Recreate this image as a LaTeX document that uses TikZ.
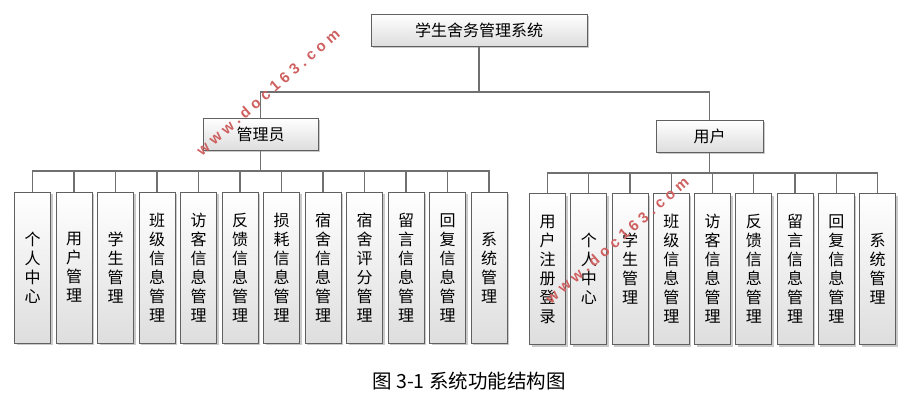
\documentclass[tikz,border=0pt]{standalone}
\usepackage{fontspec}
\setmainfont{Noto Sans CJK SC}
\newfontfamily\markfont{Liberation Sans}
\usepackage{xcolor}
\definecolor{boxgray}{RGB}{96,96,96}
\definecolor{linegray}{RGB}{112,112,112}
\definecolor{markred}{RGB}{206,96,96}
\usetikzlibrary{positioning, shadows}

\begin{document}
\begin{tikzpicture}[
    % GLOBAL CFG
    x=1pt, y=-1pt,
    font=\fontsize{16}{19}\selectfont,
    % Styles
    sysbox/.style={% For every box
        rectangle,
        draw=boxgray,
        line width=1pt,
        top color=white,
        bottom color=black!13,
        drop shadow={shadow xshift=2pt, shadow yshift=-2pt, fill=black!35, opacity=.6},
        inner sep=0pt,
        minimum height=32pt,
        },
    leaf/.style={% For the function boxes
        sysbox,
        text width=36pt,
        minimum width=36pt,
        minimum height=151pt,
        align=center,
        },
    branch/.style={% Tree lines
        draw=linegray,
        line width=1.2pt,
        },
    watermark/.style={% site mark
        text=markred,
        font=\markfont\bfseries\fontsize{15}{15}\selectfont\addfontfeature{LetterSpace=30},
        rotate=41,
        },
    ]
\useasboundingbox (0,0) rectangle (912,402);

%Start drawing the tree...
    % Draw the root and the roles
    \node [sysbox, minimum width=216pt] (root) at (479,30) {学生舍务管理系统};
    \node [sysbox, minimum width=115pt] (admin) at (260.5,134) {管理员};
    \node [sysbox, minimum width=107pt] (user) at (709.5,136) {用户};

    % Draw admin functions named a#
    \node [leaf] (a1) at (32.5,267.5) {个\\人\\中\\心};
    \node [leaf, right=4.5pt of a1] (a2) {用\\户\\管\\理};
    \node [leaf, right=4.5pt of a2] (a3) {学\\生\\管\\理};
    \node [leaf, right=4.5pt of a3] (a4) {班\\级\\信\\息\\管\\理};
    \node [leaf, right=4.5pt of a4] (a5) {访\\客\\信\\息\\管\\理};
    \node [leaf, right=4.5pt of a5] (a6) {反\\馈\\信\\息\\管\\理};
    \node [leaf, right=4.5pt of a6] (a7) {损\\耗\\信\\息\\管\\理};
    \node [leaf, right=4.5pt of a7] (a8) {宿\\舍\\信\\息\\管\\理};
    \node [leaf, right=4.5pt of a8] (a9) {宿\\舍\\评\\分\\管\\理};
    \node [leaf, right=4.5pt of a9] (a10) {留\\言\\信\\息\\管\\理};
    \node [leaf, right=4.5pt of a10] (a11) {回\\复\\信\\息\\管\\理};
    \node [leaf, right=4.5pt of a11] (a12) {系\\统\\管\\理};

    % Draw user functions named u#
    \node [leaf] (u1) at (547.5,269) {用\\户\\注\\册\\登\\录};
    \node [leaf, right=4.25pt of u1] (u2) {个\\人\\中\\心};
    \node [leaf, right=4.25pt of u2] (u3) {学\\生\\管\\理};
    \node [leaf, right=4.25pt of u3] (u4) {班\\级\\信\\息\\管\\理};
    \node [leaf, right=4.25pt of u4] (u5) {访\\客\\信\\息\\管\\理};
    \node [leaf, right=4.25pt of u5] (u6) {反\\馈\\信\\息\\管\\理};
    \node [leaf, right=4.25pt of u6] (u7) {留\\言\\信\\息\\管\\理};
    \node [leaf, right=4.25pt of u7] (u8) {回\\复\\信\\息\\管\\理};
    \node [leaf, right=4.25pt of u8] (u9) {系\\统\\管\\理};

    % Bus points
    \coordinate (bus0) at (479,92);
    \coordinate (bus1) at (260.5,171);
    \coordinate (bus2) at (709.5,173);

% Start connecting all.
    \draw [branch] (root) -- (bus0) -| (admin);
    \draw [branch] (bus0) -| (user);

    % Admin side
    \draw [branch] (admin) -- (bus1);
    \draw [branch] (bus1) -| (a1);
    \draw [branch] (bus1) -| (a2);
    \draw [branch] (bus1) -| (a3);
    \draw [branch] (bus1) -| (a4);
    \draw [branch] (bus1) -| (a5);
    \draw [branch] (bus1) -| (a6);
    \draw [branch] (bus1) -| (a7);
    \draw [branch] (bus1) -| (a8);
    \draw [branch] (bus1) -| (a9);
    \draw [branch] (bus1) -| (a10);
    \draw [branch] (bus1) -| (a11);
    \draw [branch] (bus1) -| (a12);

    % User side
    \draw [branch] (user) -- (bus2);
    \draw [branch] (bus2) -| (u1);
    \draw [branch] (bus2) -| (u2);
    \draw [branch] (bus2) -| (u3);
    \draw [branch] (bus2) -| (u4);
    \draw [branch] (bus2) -| (u5);
    \draw [branch] (bus2) -| (u6);
    \draw [branch] (bus2) -| (u7);
    \draw [branch] (bus2) -| (u8);
    \draw [branch] (bus2) -| (u9);

    % Caption
    \node [font=\fontsize{19.5}{22}\selectfont] (caption) at (469,381) {图 3-1 系统功能结构图};

    % Site marks
    \node [watermark] (mark1) at (268,92) {www.doc163.com};
    \node [watermark] (mark2) at (617,240) {www.doc163.com};

\end{tikzpicture}
\end{document}
